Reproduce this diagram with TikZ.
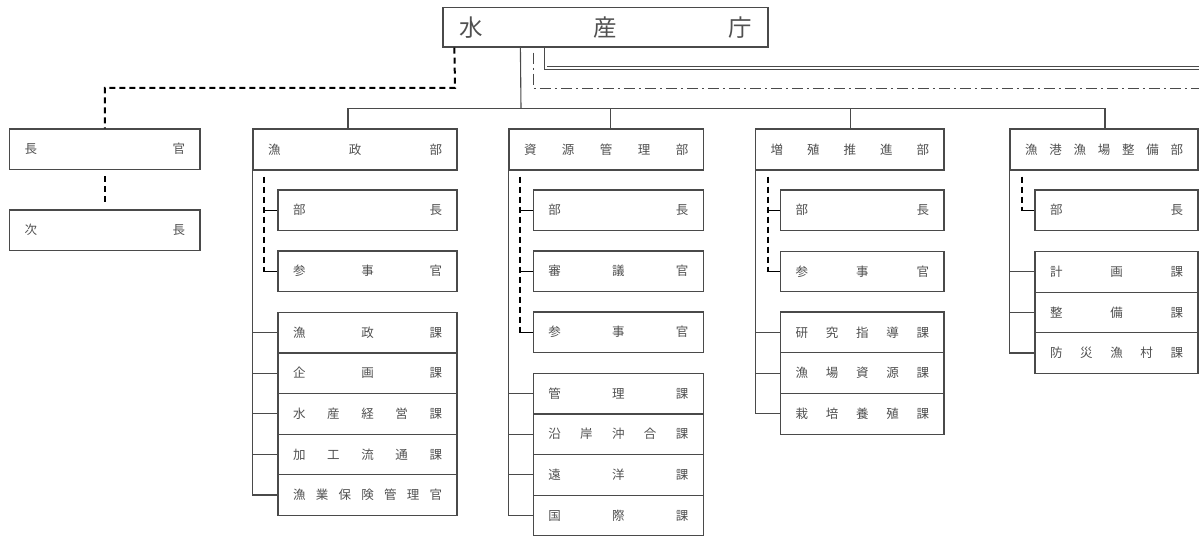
\documentclass[tikz,border=0pt]{standalone}
\usepackage{fontspec}
\newfontfamily\jp{Noto Sans CJK JP}
\definecolor{lc}{HTML}{4A4A4A}
\definecolor{tc}{HTML}{505050}
\tikzset{
  ln/.style={draw=lc, line width=1.1pt},
  tick/.style={draw=black, line width=1.1pt},
  box/.style={draw=lc, line width=1.2pt, inner sep=0pt, text=tc,
    font=\jp\fontsize{12.5}{13}\selectfont},
  hd/.style={draw=black, line width=2pt, dash pattern=on 6pt off 4pt},
  dd/.style={draw=lc, line width=0.9pt, dash pattern=on 11pt off 4pt on 2pt off 4pt},
  dbl/.style={draw=lc, double=white, double distance=1.8pt, line width=0.8pt},
}
% name, left, top, width, height, content
\newcommand\orgbox[6]{%
  \node[box, minimum width=#4pt, minimum height=#5pt] (#1) at ({#2+#4/2},{#3+#5/2})
    {\hbox to \dimexpr #4pt-30pt\relax{#6}};}
\begin{document}
\begin{tikzpicture}[x=1pt,y=-1pt]
\useasboundingbox (0,0) rectangle (1199,537);
% top
\node[box, font=\jp\fontsize{23.5}{24}\selectfont, minimum width=325pt, minimum height=39.5pt]
  (top) at (605.5,27.3) {\hbox to 292pt{水\hfill 産\hfill 庁}};
% left
\orgbox{chokan}{9.5}{129}{190.5}{40.5}{長\hfill 官}
\orgbox{jicho}{9.5}{210}{190.5}{40.5}{次\hfill 長}
% column 1
\orgbox{gyo}{253}{129}{204}{41}{漁\hfill 政\hfill 部}
\orgbox{gyoA}{278}{190}{179}{40.5}{部\hfill 長}
\orgbox{gyoB}{278}{251}{179}{40.5}{参\hfill 事\hfill 官}
\orgbox{gyo1}{278}{312.3}{179}{40.6}{漁\hfill 政\hfill 課}
\orgbox{gyo2}{278}{352.9}{179}{40.6}{企\hfill 画\hfill 課}
\orgbox{gyo3}{278}{393.5}{179}{40.6}{水\hfill 産\hfill 経\hfill 営\hfill 課}
\orgbox{gyo4}{278}{434.1}{179}{40.6}{加\hfill 工\hfill 流\hfill 通\hfill 課}
\orgbox{gyo5}{278}{474.7}{179}{40.6}{漁\hfill 業\hfill 保\hfill 険\hfill 管\hfill 理\hfill 官}
% column 2
\orgbox{shi}{509}{129}{194.3}{41}{資\hfill 源\hfill 管\hfill 理\hfill 部}
\orgbox{shiA}{533.3}{190}{170}{40.5}{部\hfill 長}
\orgbox{shiB}{533.3}{251}{170}{40.5}{審\hfill 議\hfill 官}
\orgbox{shiC}{533.3}{312}{170}{40.5}{参\hfill 事\hfill 官}
\orgbox{shi1}{533.3}{373.3}{170}{40.6}{管\hfill 理\hfill 課}
\orgbox{shi2}{533.3}{413.9}{170}{40.6}{沿\hfill 岸\hfill 沖\hfill 合\hfill 課}
\orgbox{shi3}{533.3}{454.5}{170}{40.6}{遠\hfill 洋\hfill 課}
\orgbox{shi4}{533.3}{495.1}{170}{40.6}{国\hfill 際\hfill 課}
% column 3
\orgbox{zo}{755.7}{129}{188.3}{41}{増\hfill 殖\hfill 推\hfill 進\hfill 部}
\orgbox{zoA}{780.7}{190}{163.3}{40.5}{部\hfill 長}
\orgbox{zoB}{780.7}{251.3}{163.3}{40.5}{参\hfill 事\hfill 官}
\orgbox{zo1}{780.7}{312}{163.3}{40.7}{研\hfill 究\hfill 指\hfill 導\hfill 課}
\orgbox{zo2}{780.7}{352.7}{163.3}{40.7}{漁\hfill 場\hfill 資\hfill 源\hfill 課}
\orgbox{zo3}{780.7}{393.4}{163.3}{40.7}{栽\hfill 培\hfill 養\hfill 殖\hfill 課}
% column 4
\orgbox{gk}{1010}{129}{188}{41}{漁\hfill 港\hfill 漁\hfill 場\hfill 整\hfill 備\hfill 部}
\orgbox{gkA}{1035}{190}{163}{40.5}{部\hfill 長}
\orgbox{gk1}{1035}{251.7}{163}{40.5}{計\hfill 画\hfill 課}
\orgbox{gk2}{1035}{292.2}{163}{40.5}{整\hfill 備\hfill 課}
\orgbox{gk3}{1035}{332.7}{163}{40.6}{防\hfill 災\hfill 漁\hfill 村\hfill 課}
% top connectors
\coordinate (tMain) at ([xshift=78pt]top.south west);
\coordinate (tHD) at ([xshift=12pt]top.south west);
\coordinate (tDD) at ([xshift=91pt,yshift=-5pt]top.south west);
\coordinate (tDB) at ([xshift=103.2pt,yshift=-0.7pt]top.south west);
\coordinate (bus) at (521,108.5);
\coordinate (cHD) at (455,88);
\coordinate (eDD) at (1199,88.3);
\coordinate (eDB) at (1199,68);
\draw[ln] (tMain) -- (bus);
\coordinate (gyoN) at ([xshift=-7pt]gyo.north);
\coordinate (shiN) at ([xshift=4pt]shi.north);
\coordinate (zoN) at ([xshift=1pt]zo.north);
\coordinate (gkN) at ([xshift=1pt]gk.north);
\draw[ln] (gyoN) |- (bus) -| (gkN);
\draw[ln] (shiN) -- (shiN |- bus);
\draw[ln] (zoN) -- (zoN |- bus);
\draw[hd] (tHD) -- (cHD) -| (chokan.north);
\draw[hd] ([yshift=-6pt]chokan.south) -- ([yshift=5pt]jicho.north);
\draw[dd] (tDD) |- (eDD);
\draw[dbl] (tDB) |- (eDB);
% column 1 connectors
\draw[ln] (gyo.south west) |- (gyo5.west);
\foreach \n in {gyo1,gyo2,gyo3,gyo4} \draw[ln] (gyo.south west |- \n.west) -- (\n.west);
\coordinate (gyoT) at ([xshift=12pt,yshift=-6pt]gyo.south west);
\draw[hd] (gyoT) -- (gyoT |- gyoB.west);
\foreach \n in {gyoA,gyoB} \draw[tick] ([xshift=-1pt]gyoT |- \n.west) -- (\n.west);
% column 2 connectors
\draw[ln] (shi.south west) |- (shi4.west);
\foreach \n in {shi1,shi2,shi3} \draw[ln] (shi.south west |- \n.west) -- (\n.west);
\coordinate (shiT) at ([xshift=12pt,yshift=-6pt]shi.south west);
\draw[hd] (shiT) -- (shiT |- shiC.west);
\foreach \n in {shiA,shiB,shiC} \draw[tick] ([xshift=-1pt]shiT |- \n.west) -- (\n.west);
% column 3 connectors
\draw[ln] (zo.south west) |- (zo3.west);
\foreach \n in {zo1,zo2} \draw[ln] (zo.south west |- \n.west) -- (\n.west);
\coordinate (zoT) at ([xshift=12.5pt,yshift=-6pt]zo.south west);
\draw[hd] (zoT) -- (zoT |- zoB.west);
\foreach \n in {zoA,zoB} \draw[tick] ([xshift=-1pt]zoT |- \n.west) -- (\n.west);
% column 4 connectors
\draw[ln] (gk.south west) |- (gk3.west);
\foreach \n in {gk1,gk2} \draw[ln] (gk.south west |- \n.west) -- (\n.west);
\coordinate (gkT) at ([xshift=12.5pt,yshift=-6pt]gk.south west);
\draw[hd] (gkT) -- (gkT |- gkA.west);
\draw[tick] ([xshift=-1pt]gkT |- gkA.west) -- (gkA.west);
\end{tikzpicture}
\end{document}
